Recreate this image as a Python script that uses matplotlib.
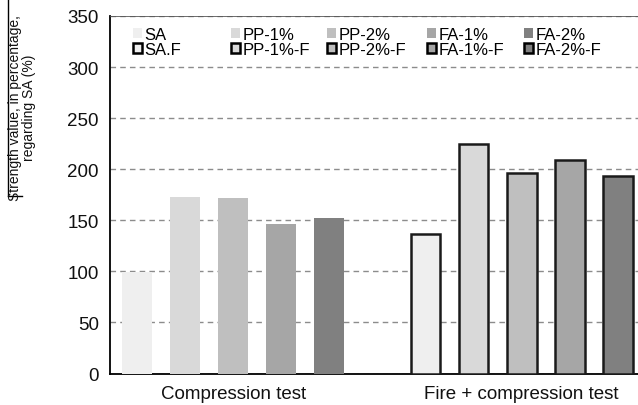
import matplotlib

matplotlib.use("Agg")
import matplotlib.pyplot as plt
from matplotlib.lines import Line2D
from matplotlib.patches import Patch

plt.rcParams["font.family"] = ["Liberation Sans", "DejaVu Sans"]

groups = ["Compression test", "Fire + compression test"]
series = ["SA", "PP-1%", "PP-2%", "FA-1%", "FA-2%"]
fire_series = ["SA.F", "PP-1%-F", "PP-2%-F", "FA-1%-F", "FA-2%-F"]
compression = [99, 173, 172, 146, 152]
fire = [137, 225, 196, 209, 193]
colors = ["#efefef", "#d9d9d9", "#bfbfbf", "#a6a6a6", "#808080"]
yticks = [0, 50, 100, 150, 200, 250, 300, 350]

fig = plt.figure(figsize=(6.38, 4.06), dpi=100)
ax = fig.add_axes([110 / 638, 31.5 / 406, 1 - 110 / 638, 357.5 / 406])

w = 0.62
for i in range(5):
    ax.bar(i, compression[i], w, color=colors[i], edgecolor="none", zorder=3)
    ax.bar(6 + i, fire[i], w, color=colors[i], edgecolor="#1a1a1a", lw=1.8, zorder=3)

ax.set_xlim(-0.56, 10.42)
ax.set_ylim(0, 350)
ax.set_yticks(yticks)
ax.yaxis.grid(True, ls=(0, (4, 3)), color="#8c8c8c", lw=1.0, zorder=0)
ax.tick_params(axis="y", length=0, labelsize=13.5, pad=8, labelcolor="#111")
ax.set_xticks([])
ax.spines["right"].set_visible(False)
ax.spines["top"].set_color("#555")
ax.spines["top"].set_linewidth(0.6)
ax.spines["left"].set_linewidth(1.3)
ax.spines["bottom"].set_linewidth(1.3)

for x, g in zip([2, 8], groups):
    ax.text(x, -11, g, ha="center", va="top", fontsize=13.5, color="#111")

fig.text(22 / 638, 1 - 108 / 406, "Strength value, in percentage,\nregarding SA (%)",
         rotation=90, ha="center", va="center", fontsize=10, color="#111",
         linespacing=1.05)
fig.add_artist(Line2D([7.5 / 638, 7.5 / 638], [1, 1 - 197 / 406],
                      transform=fig.transFigure, color="black", lw=1.0))
fig.add_artist(Line2D([7.5 / 638, 22 / 638], [1 - 197 / 406, 1 - 197 / 406],
                      transform=fig.transFigure, color="black", lw=1.0))

# one small legend per column so the columns sit where the reference has them
col_x = [133, 231, 327, 427, 524]
for i in range(5):
    hs = [Patch(fc=colors[i], ec="none"), Patch(fc=colors[i], ec="black", lw=1.8)]
    fig.legend(hs, [series[i], fire_series[i]], loc="upper left",
               bbox_to_anchor=(col_x[i] / 638, 1 - 28 / 406),
               frameon=False, fontsize=12, handlelength=0.55, handleheight=0.55,
               handletextpad=0.15, labelspacing=0.0, borderaxespad=0,
               borderpad=0)

fig.savefig("out.png", dpi=100)
